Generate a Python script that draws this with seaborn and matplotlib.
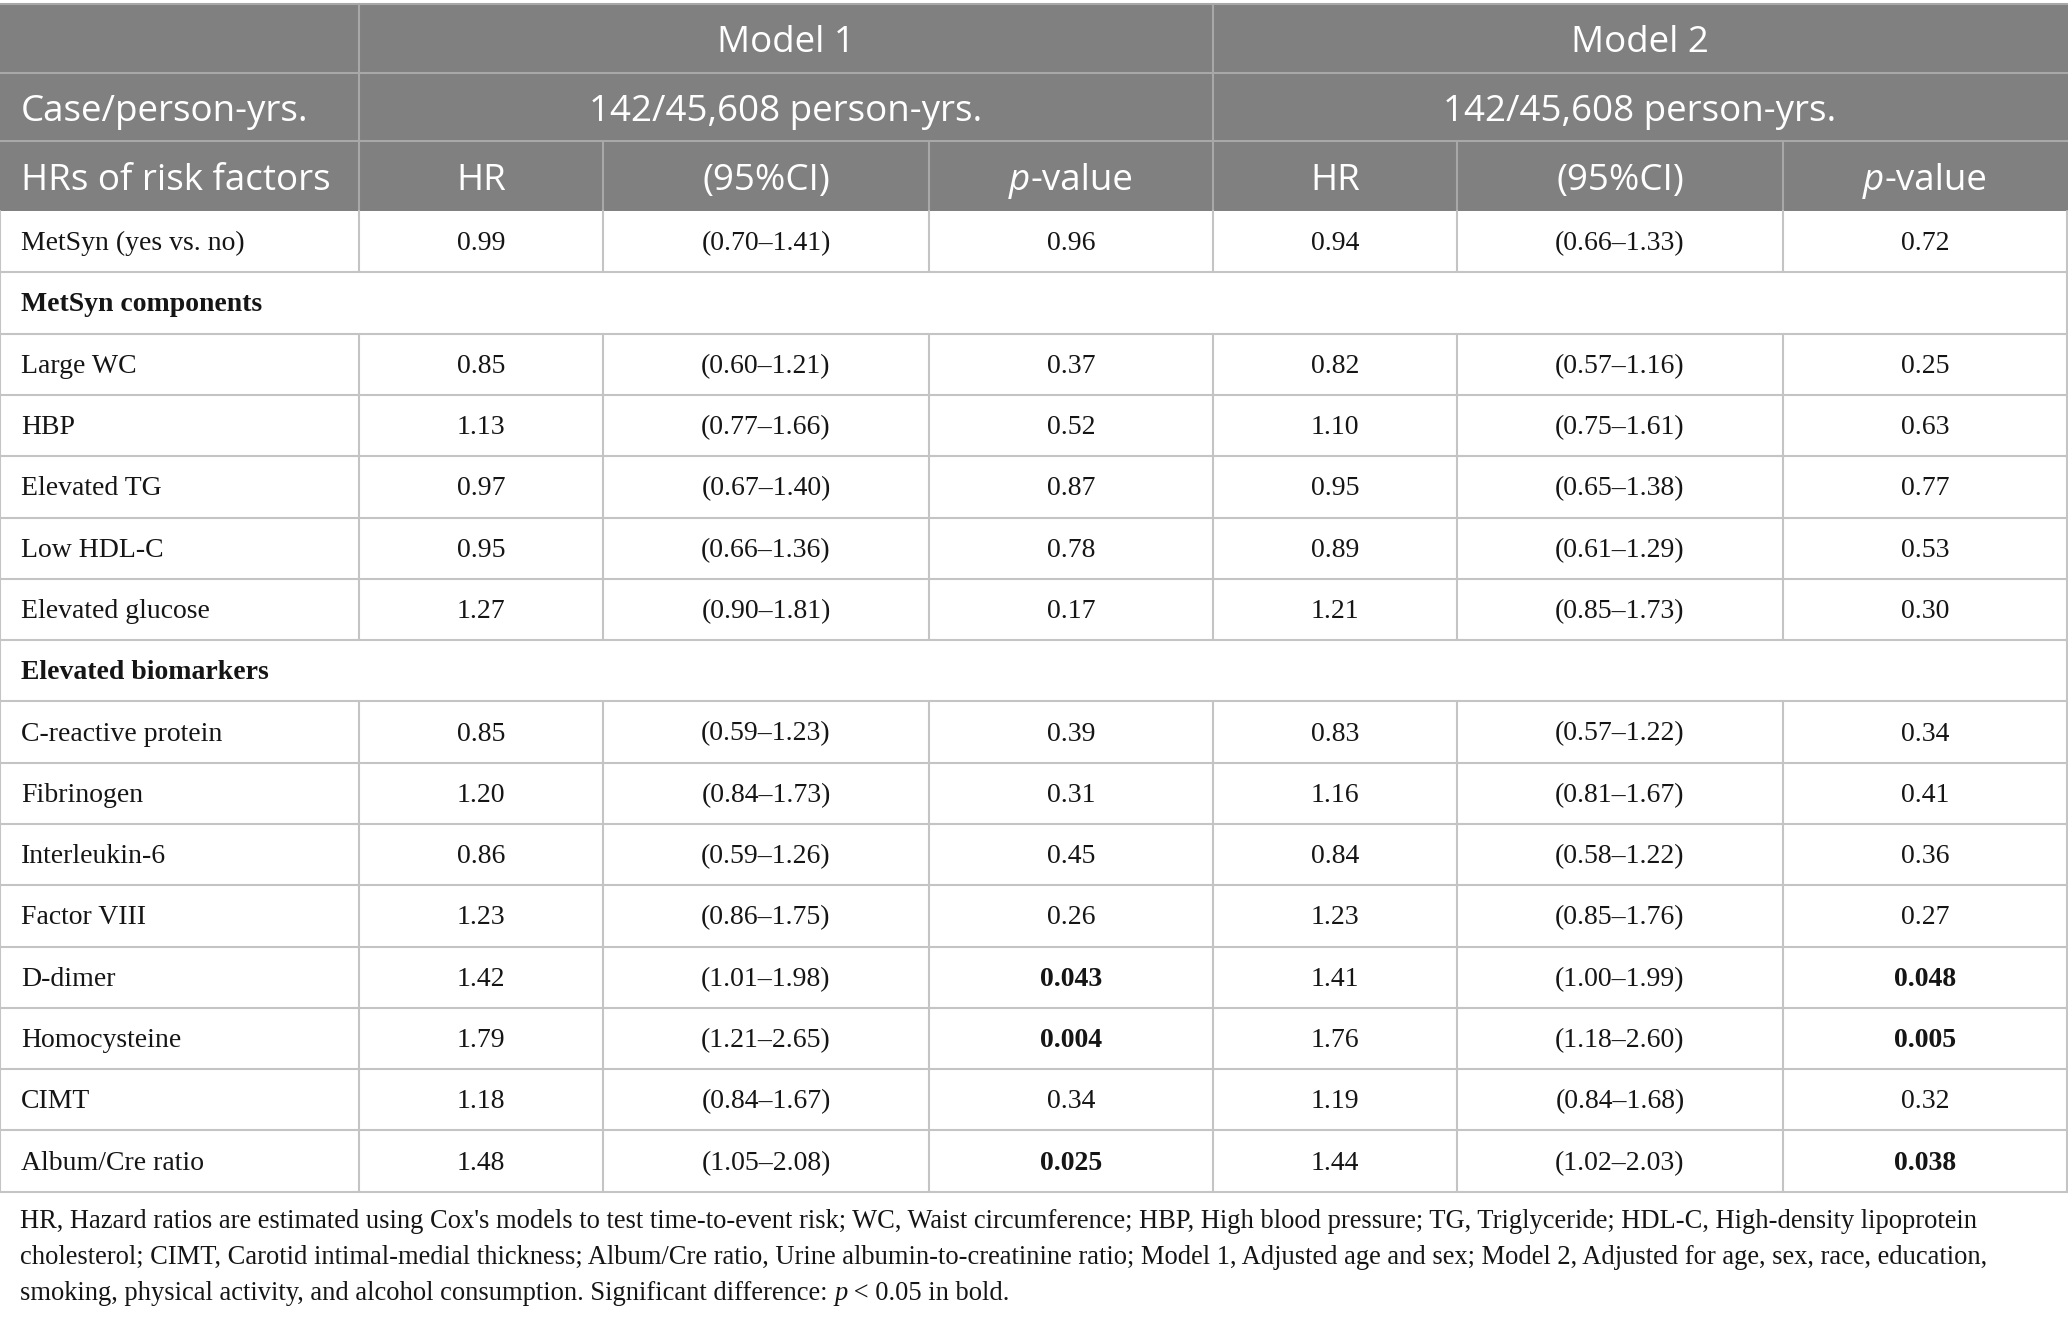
import matplotlib
matplotlib.use("Agg")
import matplotlib.pyplot as plt
import seaborn as sns

sns.set_theme(style="white")
plt.rcParams["font.family"] = ["Liberation Serif", "DejaVu Serif"]

# ---- table content ----
models = ["Model 1", "Model 2"]
case_label = "Case/person-yrs."
case_text = "142/45,608 person-yrs."
first_head = "HRs of risk factors"
sub_heads = ["HR", "(95%CI)", "-value"]  # last one gets an italic "p" in front

row_labels = ["MetSyn (yes vs. no)", "MetSyn components", "Large WC", "HBP",
              "Elevated TG", "Low HDL-C", "Elevated glucose", "Elevated biomarkers",
              "C-reactive protein", "Fibrinogen", "Interleukin-6", "Factor VIII",
              "D-dimer", "Homocysteine", "CIMT", "Album/Cre ratio"]
section_rows = ["MetSyn components", "Elevated biomarkers"]

hr_m1 = [0.99, None, 0.85, 1.13, 0.97, 0.95, 1.27, None, 0.85, 1.20, 0.86, 1.23, 1.42, 1.79, 1.18, 1.48]
lo_m1 = [0.70, None, 0.60, 0.77, 0.67, 0.66, 0.90, None, 0.59, 0.84, 0.59, 0.86, 1.01, 1.21, 0.84, 1.05]
hi_m1 = [1.41, None, 1.21, 1.66, 1.40, 1.36, 1.81, None, 1.23, 1.73, 1.26, 1.75, 1.98, 2.65, 1.67, 2.08]
p_m1 = [0.96, None, 0.37, 0.52, 0.87, 0.78, 0.17, None, 0.39, 0.31, 0.45, 0.26, 0.043, 0.004, 0.34, 0.025]

hr_m2 = [0.94, None, 0.82, 1.10, 0.95, 0.89, 1.21, None, 0.83, 1.16, 0.84, 1.23, 1.41, 1.76, 1.19, 1.44]
lo_m2 = [0.66, None, 0.57, 0.75, 0.65, 0.61, 0.85, None, 0.57, 0.81, 0.58, 0.85, 1.00, 1.18, 0.84, 1.02]
hi_m2 = [1.33, None, 1.16, 1.61, 1.38, 1.29, 1.73, None, 1.22, 1.67, 1.22, 1.76, 1.99, 2.60, 1.68, 2.03]
p_m2 = [0.72, None, 0.25, 0.63, 0.77, 0.53, 0.30, None, 0.34, 0.41, 0.36, 0.27, 0.048, 0.005, 0.32, 0.038]

footnote = [
    "HR, Hazard ratios are estimated using Cox's models to test time-to-event risk; WC, Waist circumference; "
    "HBP, High blood pressure; TG, Triglyceride; HDL-C, High-density lipoprotein",
    "cholesterol; CIMT, Carotid intimal-medial thickness; Album/Cre ratio, Urine albumin-to-creatinine ratio; "
    "Model 1, Adjusted age and sex; Model 2, Adjusted for age, sex, race, education,",
    "smoking, physical activity, and alcohol consumption. Significant difference: ",
]
footnote_tail = " < 0.05 in bold."

# ---- layout (pixels) ----
W, H = 2068, 1319
col_edges = [0, 359, 603, 929, 1213, 1457, 1783, 2067]
head_edges = [4, 72.5, 141, 211]
row_h = 61.3
body_top = head_edges[-1]
body_bottom = body_top + row_h * len(row_labels)

head_bg = "#808080"
head_line = "#a8a8a8"
grid = "#c4c4c4"
ink = "#151515"
lw = 1.5
sans = ["Open Sans", "DejaVu Sans"]
head_fs = 26.5
body_fs = 20
foot_fs = 19.1

fig = plt.figure(figsize=(W / 100, H / 100), dpi=100)
ax = fig.add_axes([0, 0, 1, 1])
ax.set_xlim(0, W)
ax.set_ylim(H, 0)
ax.axis("off")
renderer = fig.canvas.get_renderer()


def runs(x, y, parts, ha="center", **kw):
    """Draw a sequence of text pieces with different styles side by side."""
    objs = [ax.text(0, y, s, va="center", ha="left", **kw, **st) for s, st in parts]
    widths = [o.get_window_extent(renderer).width for o in objs]
    total = sum(widths)
    x0 = x - total / 2 if ha == "center" else x
    for o, w in zip(objs, widths):
        o.set_x(x0)
        x0 += w


# header background
ax.fill_between([0, W], head_edges[0], head_edges[-1], color=head_bg, lw=0)

# header lines
for y in head_edges[1:-1]:
    ax.plot([0, W], [y, y], color=head_line, lw=lw)
ax.plot([0, W], [head_edges[0], head_edges[0]], color=head_line, lw=lw)
for x in [col_edges[1], col_edges[4]]:
    ax.plot([x, x], [head_edges[0], head_edges[-1]], color=head_line, lw=lw)
for x in [col_edges[2], col_edges[3], col_edges[5], col_edges[6]]:
    ax.plot([x, x], [head_edges[2], head_edges[3]], color=head_line, lw=lw)

# header text
hc = [(head_edges[i] + head_edges[i + 1]) / 2 + 5 for i in range(3)]
for m, name in enumerate(models):
    xc = (col_edges[1 + 3 * m] + col_edges[4 + 3 * m]) / 2
    ax.text(xc, hc[0], name, ha="center", va="center", color="white", fontsize=head_fs, family=sans)
    ax.text(xc, hc[1], case_text, ha="center", va="center", color="white", fontsize=head_fs, family=sans)
    for k, sh in enumerate(sub_heads):
        c = 1 + 3 * m + k
        xc2 = (col_edges[c] + col_edges[c + 1]) / 2
        if k == 2:
            runs(xc2, hc[2], [("p", {"style": "italic"}), (sh, {})],
                 color="white", fontsize=head_fs, family=sans)
        else:
            ax.text(xc2, hc[2], sh, ha="center", va="center", color="white", fontsize=head_fs, family=sans)
ax.text(21, hc[1], case_label, ha="left", va="center", color="white", fontsize=head_fs, family=sans)
ax.text(21, hc[2], first_head, ha="left", va="center", color="white", fontsize=head_fs, family=sans)

# body
for i, label in enumerate(row_labels):
    top = body_top + i * row_h
    yc = top + row_h / 2 + 2
    ax.plot([0, W], [top + row_h, top + row_h], color=grid, lw=lw)
    if label in section_rows:
        ax.text(21, yc, label, ha="left", va="center", fontsize=body_fs, fontweight="bold", color=ink)
        continue
    for x in col_edges[1:-1]:
        ax.plot([x, x], [top, top + row_h], color=grid, lw=lw)
    ax.text(21, yc, label, ha="left", va="center", fontsize=body_fs, color=ink)
    for m, (hr, lo, hi, p) in enumerate([(hr_m1, lo_m1, hi_m1, p_m1), (hr_m2, lo_m2, hi_m2, p_m2)]):
        cells = [f"{hr[i]:.2f}", f"({lo[i]:.2f}\u2013{hi[i]:.2f})",
                 f"{p[i]:.3f}" if p[i] < 0.05 else f"{p[i]:.2f}"]
        for k, s in enumerate(cells):
            c = 1 + 3 * m + k
            xc = (col_edges[c] + col_edges[c + 1]) / 2
            bold = k == 2 and p[i] < 0.05
            ax.text(xc, yc, s, ha="center", va="center", fontsize=body_fs,
                    fontweight="bold" if bold else "normal", color=ink)

# outer border of body
ax.plot([0, 0], [body_top, body_bottom], color=grid, lw=lw)
ax.plot([col_edges[-1], col_edges[-1]], [body_top, body_bottom], color=grid, lw=lw)

# footnote
fy = [1221, 1257, 1293]
for j, line in enumerate(footnote):
    if j < 2:
        ax.text(20, fy[j], line, ha="left", va="center", fontsize=foot_fs, color=ink)
    else:
        runs(20, fy[j], [(line, {}), ("p", {"style": "italic"}), (footnote_tail, {})],
             ha="left", fontsize=foot_fs, color=ink)

fig.savefig("out.png", dpi=100, facecolor="white")
